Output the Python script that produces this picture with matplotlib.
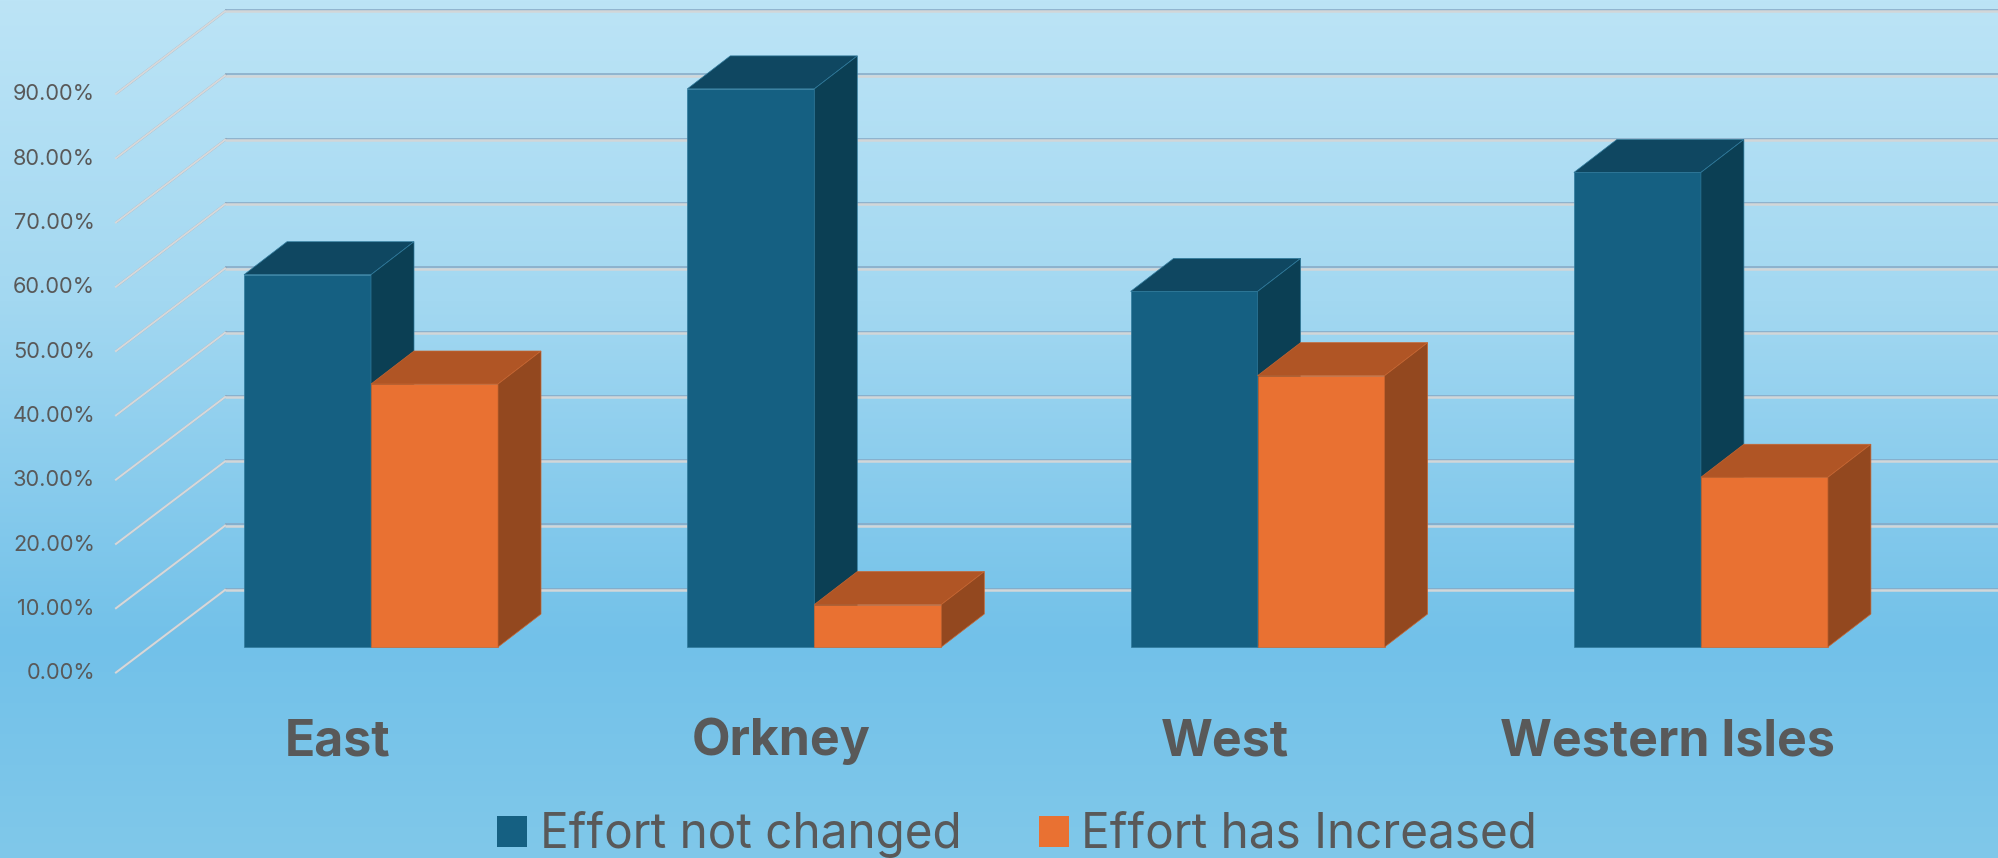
import numpy as np
import matplotlib
matplotlib.use("Agg")
import matplotlib.pyplot as plt
from matplotlib.patches import Patch, Polygon

categories = ["East", "Orkney", "West", "Western Isles"]
not_changed = [57.9, 86.8, 55.3, 73.8]
increased = [40.9, 6.6, 42.2, 26.4]
series_names = ["Effort not changed", "Effort has Increased"]
ticks = [0, 10, 20, 30, 40, 50, 60, 70, 80, 90, 100]
tick_labels = ["0.00%", "10.00%", "20.00%", "30.00%", "40.00%", "50.00%", "60.00%", "70.00%", "80.00%", "90.00%"]

W, H = 1998, 858
X0, CAT = 371.0, 443.3      # pixel of category 0 and pixels per category
Y0, PCT = 647.0, 6.43       # pixel of 0% on bar front, pixels per percent
BAR = 127.0 / CAT
DX, DY = 43.0 / CAT, 33.0 / PCT

fig = plt.figure(figsize=(W / 100, H / 100), dpi=100)
ax = fig.add_axes([0, 0, 1, 1])
ax.axis("off")

# background
stops_y = [0, 300, 640, 858]
stops_c = np.array([[188, 228, 246], [163, 216, 241], [114, 193, 233], [128, 200, 234]]) / 255
yy = np.arange(H)
grad = np.stack([np.interp(yy, stops_y, stops_c[:, i]) for i in range(3)], axis=1)[:, None, :]
ax.imshow(grad, extent=(0, 1, 0, 1), transform=ax.transAxes, aspect="auto", zorder=0)

ax.set_xlim(-X0 / CAT, (W - X0) / CAT)
ax.set_ylim((Y0 - H) / PCT, Y0 / PCT)

# walls: front-left end, back-left end of each gridline
FX, FY = (116 - X0) / CAT, (Y0 - 672.5) / PCT
BX, BY = (225 - X0) / CAT, (Y0 - 590) / PCT
right = (W - X0) / CAT
for t in ticks:
    ax.plot([BX, right], [BY + t + 0.2, BY + t + 0.2], color="#86a8c4", lw=1.1, zorder=1, solid_capstyle="butt")
    ax.plot([BX, right], [BY + t, BY + t], color="#d2d6d8", lw=1.8, zorder=1.1, solid_capstyle="butt")
    if t < 100:
        ax.plot([FX + 0.002, BX + 0.002], [FY + t + 0.1, BY + t + 0.1], color="#90a8bc", lw=1.5, zorder=1.05)
        ax.plot([FX, BX], [FY + t, BY + t], color="#d6d8da", lw=1.5, zorder=1.1)
        ax.text((95 - X0) / CAT, FY + t - 0.1, tick_labels[t // 10], ha="right", va="center",
                fontsize=15.7, color="#595959", family="Inter", zorder=5)


def box(x0, v, front, top, side, edgecol, z):
    x1 = x0 + BAR
    edge = dict(edgecolor=edgecol, linewidth=0.5, zorder=z)
    ax.add_patch(Polygon([(x0, 0), (x1, 0), (x1, v), (x0, v)], facecolor=front, **edge))
    ax.add_patch(Polygon([(x0, v), (x1, v), (x1 + DX, v + DY), (x0 + DX, v + DY)], facecolor=top, **edge))
    ax.add_patch(Polygon([(x1, 0), (x1 + DX, DY), (x1 + DX, v + DY), (x1, v)], facecolor=side, **edge))


for i, name in enumerate(categories):
    box(i - BAR, not_changed[i], "#156082", "#0F4761", "#0B3F54", "#2f7a9c", 2 + i * 0.1)
    box(i, increased[i], "#E97132", "#B05525", "#93481F", "#c9652f", 2.05 + i * 0.1)
    ax.text(i - 33 / CAT, (Y0 - 755) / PCT, name, ha="center", va="baseline", fontsize=36,
            fontweight="bold", color="#595959", family="Inter", zorder=5)

handles = [Patch(facecolor="#156082", label=series_names[0]), Patch(facecolor="#E97132", label=series_names[1])]
leg = ax.legend(handles=handles, ncol=2, loc="lower left", bbox_to_anchor=(497 / W, 0.0),
                frameon=False, prop={"family": "Inter", "size": 34.4}, labelcolor="#595959",
                handlelength=0.63, handleheight=0.63, handletextpad=0.26, columnspacing=1.62,
                borderpad=0, borderaxespad=0)
fig.savefig("out.png", dpi=100)
